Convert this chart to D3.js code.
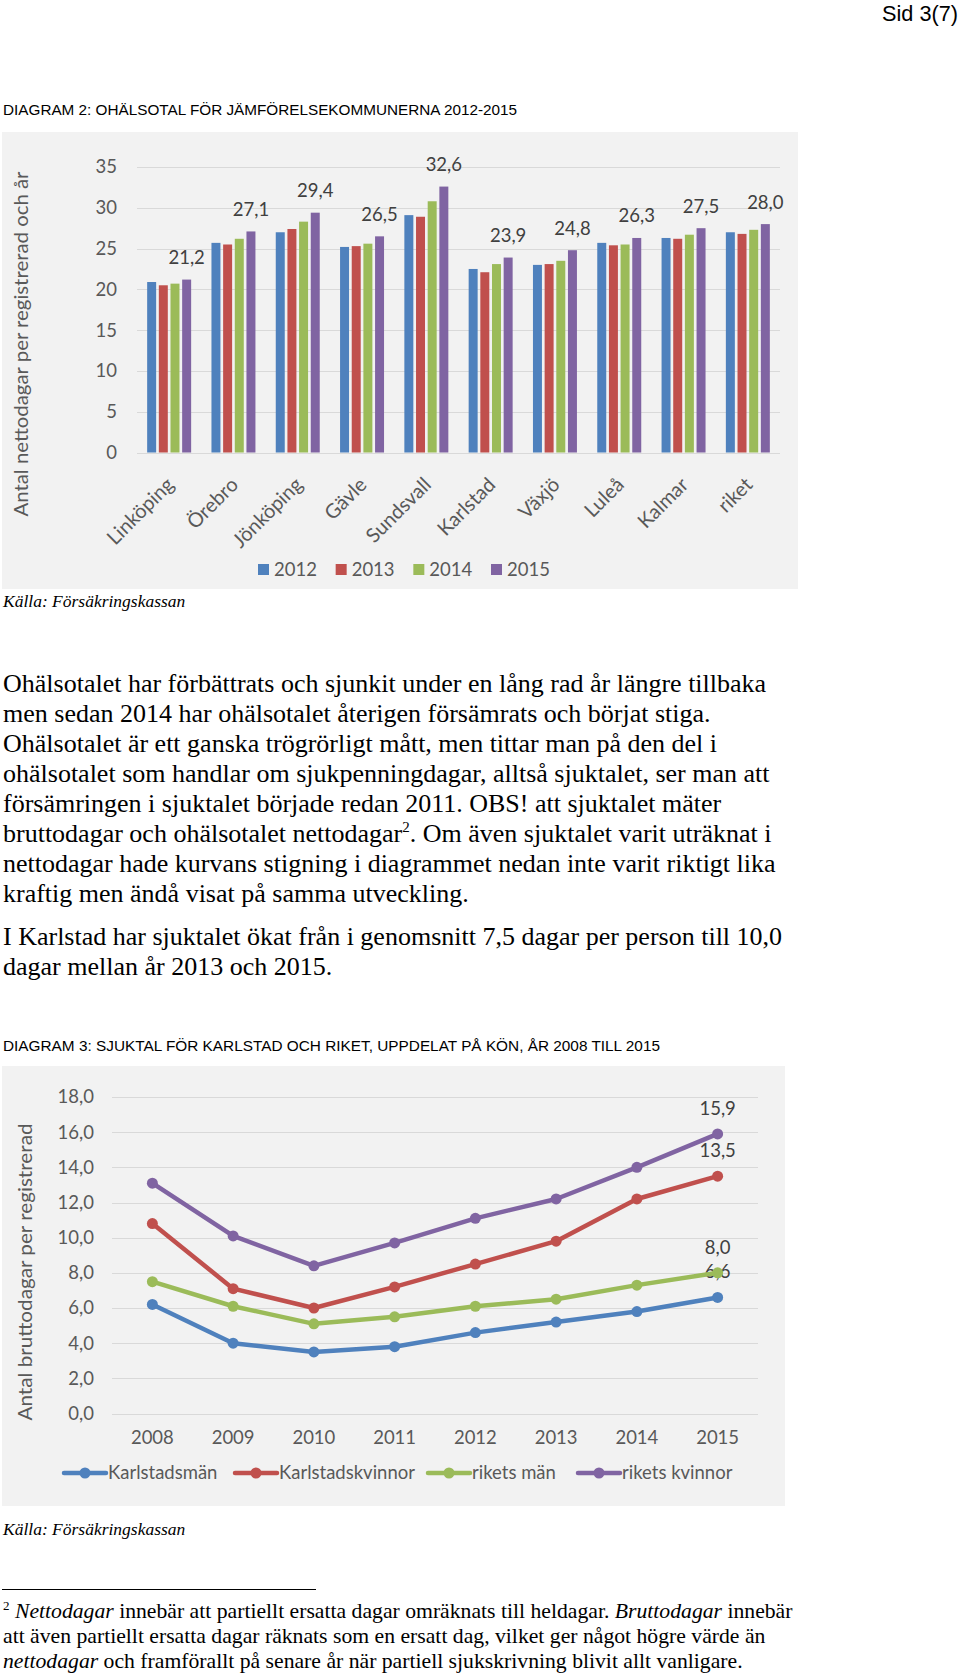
<!DOCTYPE html>
<html><head><meta charset="utf-8">
<script src="https://cdn.jsdelivr.net/npm/d3@7"></script>
<style>
html,body{margin:0;padding:0;background:#fff;}
svg{display:block;}
</style></head>
<body>
<svg id="page" width="960" height="1674"></svg>
<script>
// ---------- DATA ----------
const cities = ["Linköping","Örebro","Jönköping","Gävle","Sundsvall","Karlstad","Växjö","Luleå","Kalmar","riket"];
const years1 = ["2012","2013","2014","2015"];
const v2012 = [20.9,25.7,27.0,25.2,29.1,22.5,23.0,25.7,26.3,27.0];
const v2013 = [20.5,25.5,27.4,25.3,28.9,22.1,23.1,25.4,26.2,26.8];
const v2014 = [20.7,26.2,28.3,25.6,30.8,23.1,23.5,25.5,26.7,27.3];
const v2015 = [21.2,27.1,29.4,26.5,32.6,23.9,24.8,26.3,27.5,28.0];
const ticks1 = [0,5,10,15,20,25,30,35];
const colors = ["#4F81BD","#C0504D","#9BBB59","#8064A2"];

const years2 = ["2008","2009","2010","2011","2012","2013","2014","2015"];
const seriesNames2 = ["Karlstadsmän","Karlstadskvinnor","rikets män","rikets kvinnor"];
const karlstadsMan = [6.2,4.0,3.5,3.8,4.6,5.2,5.8,6.6];
const karlstadsKvinnor = [10.8,7.1,6.0,7.2,8.5,9.8,12.2,13.5];
const riketsMan = [7.5,6.1,5.1,5.5,6.1,6.5,7.3,8.0];
const riketsKvinnor = [13.1,10.1,8.4,9.7,11.1,12.2,14.0,15.9];
const ticks2 = [0,2,4,6,8,10,12,14,16,18];

const pageHeader = "Sid 3(7)";
const title1 = "DIAGRAM 2: OHÄLSOTAL FÖR JÄMFÖRELSEKOMMUNERNA 2012-2015";
const title2 = "DIAGRAM 3: SJUKTAL FÖR KARLSTAD OCH RIKET, UPPDELAT PÅ KÖN, ÅR 2008 TILL 2015";
const yTitle1 = "Antal nettodagar per registrerad och år";
const yTitle2 = "Antal bruttodagar per registrerad";
const source = "Källa: Försäkringskassan";
const bodyLines = [
  ["Ohälsotalet har förbättrats och sjunkit under en lång rad år längre tillbaka"],
  ["men sedan 2014 har ohälsotalet återigen försämrats och börjat stiga."],
  ["Ohälsotalet är ett ganska trögrörligt mått, men tittar man på den del i"],
  ["ohälsotalet som handlar om sjukpenningdagar, alltså sjuktalet, ser man att"],
  ["försämringen i sjuktalet började redan 2011. OBS! att sjuktalet mäter"],
  ["bruttodagar och ohälsotalet nettodagar", "2", ". Om även sjuktalet varit uträknat i"],
  ["nettodagar hade kurvans stigning i diagrammet nedan inte varit riktigt lika"],
  ["kraftig men ändå visat på samma utveckling."]
];
const body2Lines = [
  "I Karlstad har sjuktalet ökat från i genomsnitt 7,5 dagar per person till 10,0",
  "dagar mellan år 2013 och 2015."
];

// ---------- PAGE ----------
const svg = d3.select("#page");
svg.append("rect").attr("width",960).attr("height",1674).attr("fill","#fff");

const chartFont = "Lato, 'Open Sans', sans-serif";
const serif = "'Liberation Serif', 'Times New Roman', serif";
const sans = "'Liberation Sans', Arial, sans-serif";
const fmt = v => d3.format(".1f")(v).replace(".", ",");

svg.append("text").attr("x",958).attr("y",21).attr("text-anchor","end")
  .attr("font-family",sans).attr("font-size",22).attr("textLength",76).attr("lengthAdjust","spacingAndGlyphs")
  .attr("fill","#000").text(pageHeader);

svg.append("text").attr("x",3).attr("y",115)
  .attr("font-family",sans).attr("font-size",15.5).attr("textLength",514).attr("lengthAdjust","spacingAndGlyphs")
  .attr("fill","#000").text(title1);

// ---------- CHART 1 ----------
const g1 = svg.append("g");
g1.append("rect").attr("x",2).attr("y",132).attr("width",796).attr("height",457).attr("fill","#F2F2F2");

const y1 = d3.scaleLinear().domain([0,35]).range([452.5,167]);
const x0 = d3.scaleBand().domain(cities).range([137,780]).paddingInner(0.316).paddingOuter(0.158);
const x1 = d3.scaleBand().domain(years1).range([0,x0.bandwidth()]).paddingInner(0.23);

g1.append("g").selectAll("line").data(ticks1).join("line")
  .attr("x1",137).attr("x2",780).attr("y1",d=>Math.round(y1(d))+0.5).attr("y2",d=>Math.round(y1(d))+0.5)
  .attr("stroke","#D9D9D9").attr("stroke-width",1.2);

g1.append("g").selectAll("text").data(ticks1).join("text")
  .attr("x",117).attr("y",d=>y1(d)).attr("dy","0.35em").attr("text-anchor","end")
  .attr("font-family",chartFont).attr("font-size",18.5).attr("fill","#595959").text(d=>d);

const series1 = [v2012,v2013,v2014,v2015];
series1.forEach((vals,si)=>{
  g1.append("g").selectAll("rect").data(cities).join("rect")
    .attr("x",(c)=>x0(c)+x1(years1[si]))
    .attr("width",x1.bandwidth())
    .attr("y",(c,i)=>y1(vals[i]))
    .attr("height",(c,i)=>y1(0)-y1(vals[i]))
    .attr("fill",colors[si]);
});
// data labels (2015)
g1.append("g").selectAll("text").data(cities).join("text")
  .attr("x",c=>x0(c)+x1("2015")+x1.bandwidth()/2)
  .attr("y",(c,i)=>y1(v2015[i])-22).attr("dy","0.35em").attr("text-anchor","middle")
  .attr("font-family",chartFont).attr("font-size",18.5).attr("fill","#404040").text((c,i)=>fmt(v2015[i]));

// x labels
g1.append("g").selectAll("text").data(cities).join("text")
  .attr("transform",c=>`translate(${x0(c)+x0.bandwidth()/2+6},${486}) rotate(-45)`)
  .attr("text-anchor","end")
  .attr("font-family",chartFont).attr("font-size",20).attr("fill","#595959").text(c=>c);

// y title
g1.append("text").attr("transform","translate(28,344) rotate(-90)").attr("text-anchor","middle")
  .attr("font-family",chartFont).attr("font-size",20).attr("textLength",345).attr("lengthAdjust","spacingAndGlyphs")
  .attr("fill","#595959").text(yTitle1);

// legend 1
const leg1 = g1.append("g");
const leg1x = d3.scalePoint().domain(years1).range([258,491]);
years1.forEach((yr,i)=>{
  leg1.append("rect").attr("x",leg1x(yr)).attr("y",564).attr("width",11).attr("height",11).attr("fill",colors[i]);
  leg1.append("text").attr("x",leg1x(yr)+16).attr("y",570).attr("dy","0.35em")
    .attr("font-family",chartFont).attr("font-size",18.5).attr("fill","#595959").text(yr);
});

svg.append("text").attr("x",3).attr("y",607).attr("font-family",serif).attr("font-style","italic")
  .attr("font-size",17.5).attr("fill","#000").text(source);

// ---------- BODY TEXT ----------
const body = svg.append("g").attr("font-family",serif).attr("font-size",26).attr("fill","#000");
bodyLines.forEach((parts,i)=>{
  const t = body.append("text").attr("x",3).attr("y",692+i*30);
  if(parts.length===1){ t.text(parts[0]); }
  else {
    t.append("tspan").text(parts[0]);
    t.append("tspan").attr("font-size",15).attr("dy",-10).text(parts[1]);
    t.append("tspan").attr("dy",10).text(parts[2]);
  }
});
body2Lines.forEach((s,i)=>{
  body.append("text").attr("x",3).attr("y",945+i*30).text(s);
});

svg.append("text").attr("x",3).attr("y",1051)
  .attr("font-family",sans).attr("font-size",15.5).attr("textLength",657).attr("lengthAdjust","spacingAndGlyphs")
  .attr("fill","#000").text(title2);

// ---------- CHART 2 ----------
const g2 = svg.append("g");
g2.append("rect").attr("x",2).attr("y",1066).attr("width",783).attr("height",440).attr("fill","#F2F2F2");
const y2 = d3.scaleLinear().domain([0,18]).range([1413.5,1097]);
const xb = d3.scaleBand().domain(years2).range([112,758]);
const xp = d => xb(d)+xb.bandwidth()/2;

g2.append("g").selectAll("line").data(ticks2).join("line")
  .attr("x1",112).attr("x2",758).attr("y1",d=>Math.round(y2(d))+0.5).attr("y2",d=>Math.round(y2(d))+0.5)
  .attr("stroke","#D9D9D9").attr("stroke-width",1.2);
g2.append("g").selectAll("text").data(ticks2).join("text")
  .attr("x",94).attr("y",d=>y2(d)).attr("dy","0.35em").attr("text-anchor","end")
  .attr("font-family",chartFont).attr("font-size",18.5).attr("fill","#595959").text(d=>fmt(d));
g2.append("g").selectAll("text").data(years2).join("text")
  .attr("x",d=>xp(d)).attr("y",1438).attr("dy","0.35em").attr("text-anchor","middle")
  .attr("font-family",chartFont).attr("font-size",18.5).attr("fill","#595959").text(d=>d);

g2.append("text").attr("transform","translate(32,1272) rotate(-90)").attr("text-anchor","middle")
  .attr("font-family",chartFont).attr("font-size",20).attr("textLength",297).attr("lengthAdjust","spacingAndGlyphs")
  .attr("fill","#595959").text(yTitle2);

const series2 = [karlstadsMan,karlstadsKvinnor,riketsMan,riketsKvinnor];
const line = d3.line().x((v,i)=>xp(years2[i])).y(v=>y2(v));
series2.forEach((vals,si)=>{
  const gg = g2.append("g");
  gg.append("path").datum(vals).attr("d",line).attr("fill","none").attr("stroke",colors[si])
    .attr("stroke-width",4.5).attr("stroke-linejoin","round").attr("stroke-linecap","round");
  gg.selectAll("circle").data(vals).join("circle")
    .attr("cx",(v,i)=>xp(years2[i])).attr("cy",v=>y2(v)).attr("r",5.5).attr("fill",colors[si]);
  const last = vals[vals.length-1];
  gg.append("text").attr("x",xp(years2[years2.length-1])).attr("y",y2(last)-25.5).attr("dy","0.35em")
    .attr("text-anchor","middle").attr("font-family",chartFont).attr("font-size",18.5).attr("fill","#404040")
    .text(fmt(last));
});

// legend 2
const leg2Starts = [64,235,428,578];
seriesNames2.forEach((nm,i)=>{
  const lx = leg2Starts[i];
  const lg = g2.append("g");
  lg.append("line").attr("x1",lx).attr("x2",lx+42).attr("y1",1473).attr("y2",1473)
    .attr("stroke",colors[i]).attr("stroke-width",4.5).attr("stroke-linecap","round");
  lg.append("circle").attr("cx",lx+21).attr("cy",1473).attr("r",5.5).attr("fill",colors[i]);
  lg.append("text").attr("x",lx+44).attr("y",1473).attr("dy","0.35em")
    .attr("font-family",chartFont).attr("font-size",18.5).attr("fill","#595959").text(nm);
});

svg.append("text").attr("x",3).attr("y",1535).attr("font-family",serif).attr("font-style","italic")
  .attr("font-size",17.5).attr("fill","#000").text(source);

// ---------- FOOTNOTE ----------
svg.append("line").attr("x1",2).attr("x2",316).attr("y1",1589.5).attr("y2",1589.5).attr("stroke","#000").attr("stroke-width",1);
const fn = svg.append("g").attr("font-family",serif).attr("font-size",21.7).attr("fill","#000");
const f1 = fn.append("text").attr("x",3).attr("y",1618);
f1.append("tspan").attr("font-size",13).attr("dy",-8).text("2");
f1.append("tspan").attr("dy",8).text(" ");
f1.append("tspan").attr("font-style","italic").text("Nettodagar");
f1.append("tspan").text(" innebär att partiellt ersatta dagar omräknats till heldagar. ");
f1.append("tspan").attr("font-style","italic").text("Bruttodagar");
f1.append("tspan").text(" innebär");
fn.append("text").attr("x",3).attr("y",1643).text("att även partiellt ersatta dagar räknats som en ersatt dag, vilket ger något högre värde än");
const f3 = fn.append("text").attr("x",3).attr("y",1668);
f3.append("tspan").attr("font-style","italic").text("nettodagar");
f3.append("tspan").text(" och framförallt på senare år när partiell sjukskrivning blivit allt vanligare.");
</script>
</body></html>
